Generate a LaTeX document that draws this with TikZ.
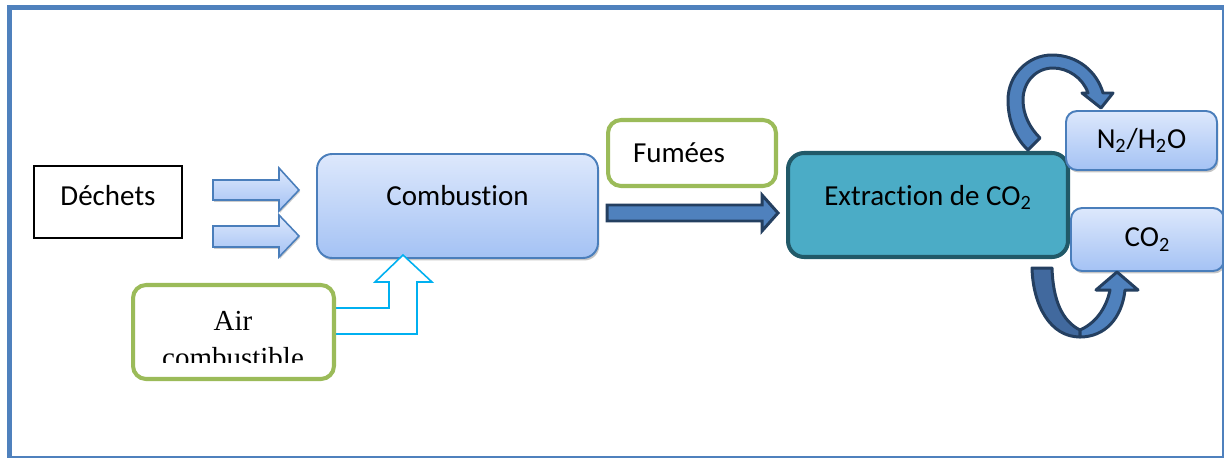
\documentclass[tikz,border=0pt]{standalone}
\usepackage{fontspec}
\setmainfont{Carlito}[Ligatures=NoCommon]
\newfontfamily\serifair{Liberation Serif}
\usetikzlibrary{shadows, calc}
\definecolor{frameblue}{HTML}{4F81BD}
\definecolor{boxline}{HTML}{4A7EBB}
\definecolor{boxtop}{HTML}{DDE8FC}
\definecolor{boxbot}{HTML}{A4C2F4}
\definecolor{greenline}{HTML}{9BBB59}
\definecolor{tealfill}{HTML}{4BACC6}
\definecolor{tealline}{HTML}{215968}
\definecolor{navyline}{HTML}{243F60}
\definecolor{arrowfill}{HTML}{4F81BD}
\definecolor{arrowdark}{HTML}{41699E}
\definecolor{airline}{HTML}{00B0F0}
\tikzset{
  txt/.style={font=\fontsize{16.5}{20}\selectfont, text=black},
  procbox/.style={txt, draw=boxline, line width=1.1pt, rounded corners=0.3cm,
      top color=boxtop, bottom color=boxbot,
      drop shadow={shadow xshift=0.8pt, shadow yshift=-1.4pt, fill=black!45}},
  greenbox/.style={txt, draw=greenline, line width=2.3pt, rounded corners=0.26cm, fill=white},
  plainbox/.style={txt, draw=black, line width=1.1pt},
  extbox/.style={txt, draw=tealline, line width=2.3pt, rounded corners=0.32cm, fill=tealfill},
  inarrow/.style={draw=boxline, line width=0.9pt, top color=boxtop, bottom color=boxbot,
      drop shadow={shadow xshift=0.6pt, shadow yshift=-1pt, fill=black!40}},
  fatarrow/.style={draw=navyline, line width=1.7pt, fill=arrowfill, line join=miter},
  bentarrow/.style={draw=airline, line width=0.9pt, fill=white},
  frame/.style={draw=frameblue, line width=2.8pt},
}
\begin{document}
\begin{tikzpicture}[x=0.02cm, y=-0.02cm]
  \useasboundingbox (0,0) rectangle (1224,457);
  % input
  \node[plainbox, minimum width=2.96cm, minimum height=1.44cm, text depth=8pt] (dech) at (108,202) {Déchets};
  % feed arrows
  \draw[inarrow] (213,180) -- (279,180) -- (279,168) -- (299,190) -- (279,211) -- (279,200) -- (213,200) -- cycle;
  \draw[inarrow] (213,226) -- (279,226) -- (279,215) -- (299,236) -- (279,257) -- (279,247) -- (213,247) -- cycle;
  % combustion
  \node[procbox, minimum width=5.62cm, minimum height=2.08cm, text depth=12.5pt] (comb) at (457.5,206) {Combustion};
  % air supply
  \draw[bentarrow] (333,308) -- (389,308) -- (389,282) -- (375,282) -- (403,255) -- (432,282)
    -- (417,282) -- (417,334) -- (333,334) -- cycle;
  \node[greenbox, minimum width=4.02cm, minimum height=1.88cm] (air) at (233.5,332) {};
  \begin{scope}
    \clip (137,289) rectangle (330,362.5);
    \node[font=\serifair\fontsize{16.5}{21}\selectfont, align=center, inner sep=0pt] (airtxt) at (233,339.5) {Air\\combustible};
  \end{scope}
  % flue gas
  \node[greenbox, minimum width=3.36cm, minimum height=1.32cm, text width=2.36cm, inner xsep=0.5cm, align=left] (fum) at (692,153) {Fumées};
  \draw[fatarrow] (607,205) -- (762,205) -- (762,195) -- (778,213) -- (762,231) -- (762,221) -- (607,221) -- cycle;
  % capture unit
  \node[extbox, minimum width=5.6cm, minimum height=2.08cm, text depth=11.3pt] (ext) at (928,205) {Extraction de CO\textsubscript{2}};
  % outputs
  \node[procbox, rounded corners=0.22cm, minimum width=3.02cm, minimum height=1.18cm] (nh) at (1141.5,140.5) {N\textsubscript{2}/H\textsubscript{2}O};
  \node[procbox, rounded corners=0.22cm, minimum width=3.06cm, minimum height=1.26cm] (co) at (1147.5,239.5) {CO\textsubscript{2}};
  % curved arrow up
  \draw[fatarrow, line join=round] (1028,150) .. controls (1012,135) and (1008,115) .. (1008,100)
    .. controls (1008,75) and (1028,55) .. (1052,55)
    .. controls (1078,55) and (1097,72) .. (1103,93)
    -- (1113,93) -- (1101,108) -- (1082,93) -- (1088,93)
    .. controls (1083,78) and (1068,68) .. (1053,68)
    .. controls (1036,68) and (1023,82) .. (1023,100)
    .. controls (1023,115) and (1030,128) .. (1040,138) -- cycle;
  % curved arrow down
  \draw[fatarrow, fill=arrowdark, line join=round] (1032,268) -- (1052,268)
    .. controls (1053,300) and (1062,321) .. (1080,330) -- (1080,337)
    .. controls (1050,337) and (1033,305) .. (1032,268) -- cycle;
  \draw[fatarrow, line join=round] (1080,330) .. controls (1098,322) and (1107,305) .. (1110,290)
    -- (1096,290) -- (1117,272) -- (1138,290) -- (1125,290)
    .. controls (1122,318) and (1105,337) .. (1080,337) -- cycle;
  % frame
  \draw[frame] (9.5,7.5) rectangle (1224,458);
\end{tikzpicture}
\end{document}
